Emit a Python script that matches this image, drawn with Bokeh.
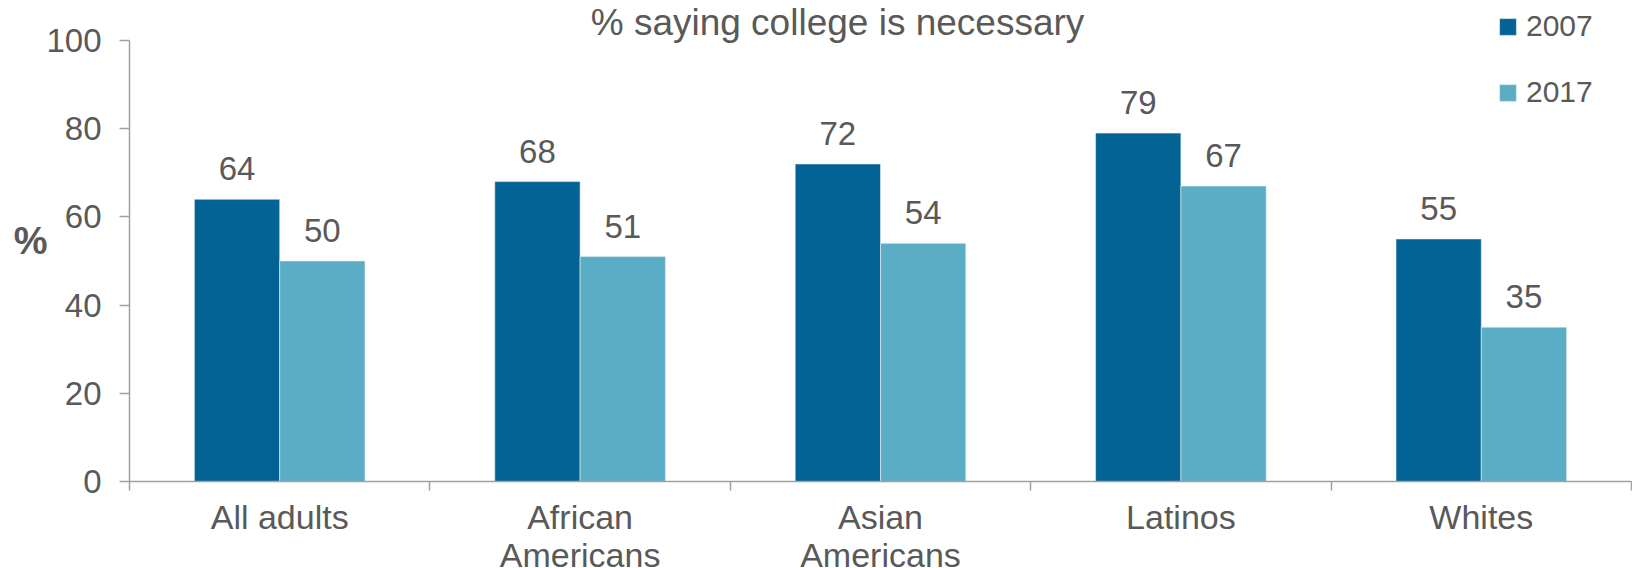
from bokeh.plotting import figure
from bokeh.models import (FactorRange, Range1d, LinearAxis, FixedTicker, ColumnDataSource,
                          LabelSet, Label)
from bokeh.core.properties import value
from bokeh.transform import dodge
from bokeh.embed import file_html
from bokeh.resources import INLINE

categories = ["All adults", "African Americans", "Asian Americans", "Latinos", "Whites"]
tick_labels = ["All adults", "African\nAmericans", "Asian\nAmericans", "Latinos", "Whites"]
years = ["2007", "2017"]
values_2007 = [64, 68, 72, 79, 55]
values_2017 = [50, 51, 54, 67, 35]
y_ticks = [0, 20, 40, 60, 80, 100]
title_text = "% saying college is necessary"
y_label = "%"

FONT = "Liberation Sans"
GRAY = "#595959"
AXIS = "#a0a0a0"
C2007 = "#026394"
C2017 = "#5badc6"

src = ColumnDataSource(dict(
    cat=categories,
    v2007=values_2007,
    v2017=values_2017,
    t2007=[str(v) for v in values_2007],
    t2017=[str(v) for v in values_2017],
))

# frame spans the full top area so annotations above y=100 are not clipped
p = figure(x_range=FactorRange(*categories, range_padding=0), y_range=Range1d(0, 100 * 481 / 441),
           frame_width=1502, frame_height=481, x_axis_type=None,
           output_backend="svg", toolbar_location=None,
           min_border_left=129, min_border_top=0, min_border_right=1, min_border_bottom=0)
p.outline_line_color = None
p.xgrid.visible = False
p.ygrid.visible = False

w = 0.284
off = 0.142
p.vbar(x=dodge("cat", -off, range=p.x_range), top="v2007", width=w, source=src,
       fill_color=C2007, line_color="#e8f0f4", line_width=0.6, legend_label=years[0])
p.vbar(x=dodge("cat", off, range=p.x_range), top="v2017", width=w, source=src,
       fill_color=C2017, line_color="#e8f0f4", line_width=0.6, legend_label=years[1])

for col, tcol, o in (("v2007", "t2007", -off), ("v2017", "t2017", off)):
    p.add_layout(LabelSet(x=dodge("cat", o, range=p.x_range), y=col, text=tcol, source=src,
                          y_offset=19, text_align="center", text_baseline="alphabetic",
                          text_font=value(FONT), text_font_size="33px", text_color=GRAY))

# y axis
ya = p.yaxis[0]
ya.ticker = FixedTicker(ticks=y_ticks)
ya.bounds = (0, 100)
ya.axis_line_color = AXIS
ya.axis_line_width = 1.5
ya.major_tick_line_color = AXIS
ya.major_tick_line_width = 1.5
ya.major_tick_out = 10
ya.major_tick_in = 0
ya.minor_tick_line_color = None
ya.major_label_standoff = 18
ya.major_label_text_font = FONT
ya.major_label_text_font_size = "33px"
ya.major_label_text_color = GRAY
ya.axis_label = y_label
ya.axis_label_text_font = FONT
ya.axis_label_text_font_size = "38px"
ya.axis_label_text_font_style = "bold"
ya.axis_label_text_color = GRAY
ya.axis_label_text_baseline = "bottom"
ya.axis_label_standoff = -4
try:
    ya.axis_label_orientation = "horizontal"
except Exception:
    pass

# x axis with ticks at category boundaries
n = len(categories)
xa = LinearAxis(ticker=FixedTicker(ticks=[i + 0.5 for i in range(n)],
                                   minor_ticks=[float(i) for i in range(n + 1)]))
xa.major_label_overrides = {i + 0.5: tick_labels[i] for i in range(n)}
xa.axis_line_color = AXIS
xa.axis_line_width = 1.5
xa.major_tick_line_color = None
xa.major_tick_out = 9
xa.major_tick_in = 0
xa.minor_tick_line_color = AXIS
xa.minor_tick_line_width = 1.5
xa.minor_tick_out = 9
xa.minor_tick_in = 0
xa.major_label_standoff = 7
xa.major_label_text_font = FONT
xa.major_label_text_font_size = "34px"
xa.major_label_text_color = GRAY
xa.major_label_text_line_height = 1.0
p.add_layout(xa, "below")

# title
p.add_layout(Label(x=n / 2, y=100, text=title_text, x_offset=-43, y_offset=18,
                   text_align="center", text_baseline="alphabetic", text_font=FONT,
                   text_font_size="37px", text_color=GRAY))

lg = p.legend[0]
lg.location = (1368, 371)
lg.orientation = "vertical"
lg.glyph_width = 21
lg.glyph_height = 21
lg.label_height = 36
lg.spacing = 30
lg.padding = 0
lg.margin = 0
lg.label_standoff = 8
lg.border_line_color = None
lg.background_fill_alpha = 0
lg.label_text_font = FONT
lg.label_text_font_size = "30px"
lg.label_text_color = GRAY

open("out.html", "w").write(file_html(p, INLINE))
